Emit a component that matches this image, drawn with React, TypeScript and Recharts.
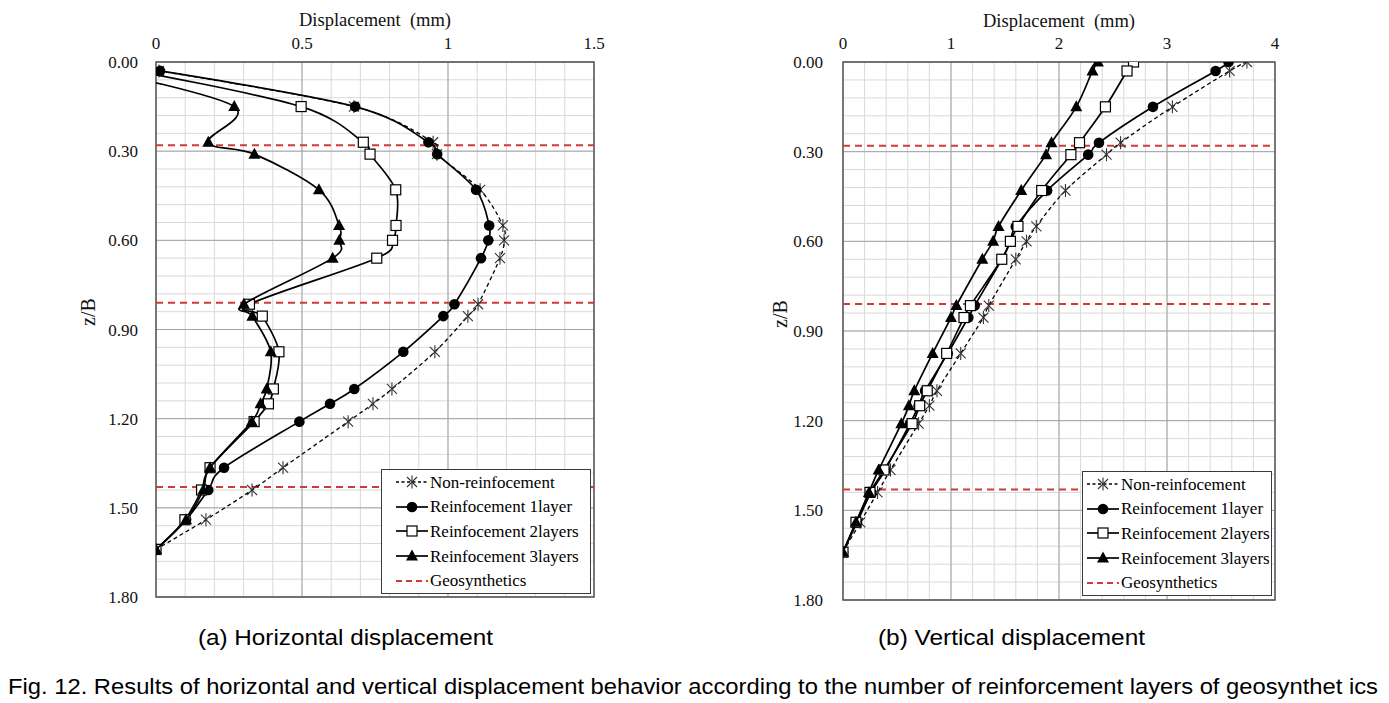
import React from 'react';
import {
  ScatterChart,
  Scatter,
  XAxis,
  YAxis,
  CartesianGrid,
  ReferenceLine,
  ReferenceArea,
} from 'recharts';

// ---------- names & ticks ----------
const SERIES_NAMES = [
  'Non-reinfocement',
  'Reinfocement 1layer',
  'Reinfocement 2layers',
  'Reinfocement 3layers',
];
const GEO_NAME = 'Geosynthetics';
const MARKERS = ['star', 'circle', 'square', 'triangle'];

const Y_TICKS = [0, 0.3, 0.6, 0.9, 1.2, 1.5, 1.8];
const H_X_TICKS = [0, 0.5, 1, 1.5];
const V_X_TICKS = [0, 1, 2, 3, 4];
const GEO_LAYERS = [0.28, 0.81, 1.43];

// ---------- (a) horizontal displacement ----------
const zH = [0.03, 0.15, 0.27, 0.31, 0.43, 0.55, 0.6, 0.66, 0.815, 0.855, 0.975, 1.1, 1.15, 1.21, 1.365, 1.44, 1.54, 1.64];
const hNon = [0.01, 0.678, 0.949, 0.962, 1.11, 1.188, 1.192, 1.178, 1.103, 1.068, 0.955, 0.808, 0.743, 0.658, 0.435, 0.329, 0.171, 0];
const h1 = [0.014, 0.682, 0.933, 0.963, 1.096, 1.141, 1.138, 1.113, 1.022, 0.984, 0.847, 0.679, 0.596, 0.491, 0.233, 0.179, 0.103, 0];
const h2 = [-0.07, 0.497, 0.71, 0.733, 0.821, 0.822, 0.81, 0.756, 0.32, 0.364, 0.421, 0.402, 0.385, 0.336, 0.185, 0.156, 0.099, 0];
const h3 = [-0.18, 0.268, 0.179, 0.337, 0.558, 0.627, 0.628, 0.605, 0.301, 0.33, 0.393, 0.379, 0.358, 0.328, 0.185, 0.162, 0.103, 0];

// ---------- (b) vertical displacement ----------
const zV = [0.0, 0.03, 0.15, 0.27, 0.31, 0.43, 0.55, 0.6, 0.66, 0.815, 0.855, 0.975, 1.1, 1.15, 1.21, 1.365, 1.44, 1.54, 1.64];
const vNon = [3.74, 3.58, 3.05, 2.57, 2.44, 2.06, 1.79, 1.7, 1.6, 1.35, 1.3, 1.09, 0.87, 0.8, 0.7, 0.44, 0.32, 0.16, 0];
const v1 = [3.57, 3.45, 2.87, 2.37, 2.27, 1.89, 1.6, 1.55, 1.47, 1.22, 1.16, 0.97, 0.76, 0.7, 0.62, 0.39, 0.26, 0.13, 0];
const v2 = [2.69, 2.63, 2.43, 2.19, 2.11, 1.84, 1.62, 1.55, 1.47, 1.18, 1.12, 0.96, 0.78, 0.71, 0.64, 0.38, 0.25, 0.12, 0];
const v3 = [2.36, 2.31, 2.16, 1.93, 1.88, 1.65, 1.44, 1.39, 1.29, 1.05, 1.0, 0.83, 0.66, 0.61, 0.54, 0.33, 0.24, 0.12, 0];

const SERIF = '"Liberation Serif", "Times New Roman", serif';
const SANS = '"Liberation Sans", Arial, sans-serif';
const RED = '#cf3b36';

type Pt = { x: number; z: number };
const toPts = (z: number[], x: number[]): Pt[] => z.map((zz, i) => ({ z: zz, x: x[i] }));

// Catmull-Rom style smoothing (like Excel's smoothed lines)
class CardinalCurve {
  _context: any; _k: number;
  _x0 = NaN; _x1 = NaN; _x2 = NaN; _y0 = NaN; _y1 = NaN; _y2 = NaN;
  _point = 0; _line: any = undefined;
  constructor(context: any) { this._context = context; this._k = 1 / 6; }
  areaStart() { this._line = 0; }
  areaEnd() { this._line = NaN; }
  lineStart() {
    this._x0 = this._x1 = this._x2 = this._y0 = this._y1 = this._y2 = NaN;
    this._point = 0;
  }
  lineEnd() {
    switch (this._point) {
      case 2: this._context.lineTo(this._x2, this._y2); break;
      case 3: this.bez(this._x1, this._y1); break;
    }
    if (this._line || (this._line !== 0 && this._point === 1)) this._context.closePath();
    this._line = 1 - this._line;
  }
  point(x: number, y: number) {
    x = +x; y = +y;
    switch (this._point) {
      case 0: this._point = 1; this._line ? this._context.lineTo(x, y) : this._context.moveTo(x, y); break;
      case 1: this._point = 2; this._x1 = x; this._y1 = y; break;
      case 2: this._point = 3; this.bez(x, y); break;
      default: this.bez(x, y); break;
    }
    this._x0 = this._x1; this._x1 = this._x2; this._x2 = x;
    this._y0 = this._y1; this._y1 = this._y2; this._y2 = y;
  }
  bez(x: number, y: number) {
    const k = this._k;
    this._context.bezierCurveTo(
      this._x1 + k * (this._x2 - this._x0),
      this._y1 + k * (this._y2 - this._y0),
      this._x2 + k * (this._x1 - x),
      this._y2 + k * (this._y1 - y),
      this._x2,
      this._y2,
    );
  }
}
const smoothCurve: any = (context: any) => new CardinalCurve(context);

function Marker({ kind, cx, cy }: { kind: string; cx: number; cy: number }) {
  if (cx == null || cy == null || isNaN(cx) || isNaN(cy)) return null;
  if (kind === 'star') {
    const r = 6.5;
    const d = 5;
    return (
      <g stroke="#333" strokeWidth={1.1} fill="none">
        <line x1={cx} y1={cy - r} x2={cx} y2={cy + r} />
        <line x1={cx - d} y1={cy - d} x2={cx + d} y2={cy + d} />
        <line x1={cx - d} y1={cy + d} x2={cx + d} y2={cy - d} />
      </g>
    );
  }
  if (kind === 'circle') return <circle cx={cx} cy={cy} r={5.3} fill="#000" />;
  if (kind === 'square')
    return <rect x={cx - 5} y={cy - 5} width={10} height={10} fill="#fff" stroke="#000" strokeWidth={1.2} />;
  if (kind === 'triangle')
    return <polygon points={`${cx},${cy - 6.5} ${cx - 6},${cy + 4.5} ${cx + 6},${cy + 4.5}`} fill="#000" />;
  return null;
}

const range = (max: number, step: number) => {
  const out: number[] = [];
  const n = Math.round(max / step);
  for (let i = 0; i <= n; i++) out.push(Math.round(i * step * 1000) / 1000);
  return out;
};

// grid coordinates from the axis scale (fallback: plot offset, linear)
const gen = (vals: number[], key: 'xAxis' | 'yAxis', max: number) => (props: any) => {
  const ax = props && props[key];
  const off = props && props.offset;
  const out: number[] = [];
  vals.forEach((v) => {
    let c = NaN;
    try {
      if (ax && typeof ax.scale === 'function') c = Number(ax.scale(v));
      else if (ax && ax.scale && typeof ax.scale.map === 'function') c = Number(ax.scale.map(v));
    } catch (e) {
      c = NaN;
    }
    if (!isFinite(c) && off) {
      c = key === 'xAxis' ? off.left + (v / max) * off.width : off.top + (v / max) * off.height;
    }
    if (isFinite(c)) out.push(c);
  });
  return out;
};

type PanelProps = {
  left: number;
  width: number;
  height: number;
  margin: { top: number; right: number; bottom: number; left: number };
  xMax: number;
  xTicks: number[];
  xMinorStep: number;
  xMajorStep: number;
  yTickMargin: number;
  series: Pt[][];
};

function Panel(p: PanelProps) {
  const minorX = range(p.xMax, p.xMinorStep);
  const majorX = range(p.xMax, p.xMajorStep);
  const minorY = range(1.8, 0.06);
  const majorY = range(1.8, 0.3);
  const tickStyle = { fontSize: 17, fontFamily: SERIF, fill: '#111' };
  return (
    <div style={{ position: 'absolute', left: p.left, top: 0 }}>
      <ScatterChart width={p.width} height={p.height} margin={p.margin}>
        <CartesianGrid
          stroke="#d9d9d9"
          strokeWidth={1}
          verticalCoordinatesGenerator={gen(minorX, 'xAxis', p.xMax)}
          horizontalCoordinatesGenerator={gen(minorY, 'yAxis', 1.8)}
        />
        <CartesianGrid
          stroke="#a3a3a3"
          strokeWidth={1}
          verticalCoordinatesGenerator={gen(majorX, 'xAxis', p.xMax)}
          horizontalCoordinatesGenerator={gen(majorY, 'yAxis', 1.8)}
        />
        <XAxis
          type="number"
          dataKey="x"
          orientation="top"
          domain={[0, p.xMax]}
          ticks={p.xTicks}
          interval={0}
          allowDataOverflow
          height={30}
          tickSize={0}
          tickMargin={13}
          axisLine={false}
          tickLine={false}
          tick={tickStyle}
        />
        <YAxis
          type="number"
          dataKey="z"
          domain={[0, 1.8]}
          reversed
          ticks={Y_TICKS}
          interval={0}
          allowDataOverflow
          width={60}
          tickSize={0}
          tickMargin={p.yTickMargin}
          axisLine={false}
          tickLine={false}
          tick={tickStyle}
          tickFormatter={(v: number) => v.toFixed(2)}
        />
        <ReferenceArea x1={0} x2={p.xMax} y1={0} y2={1.8} fill="none" stroke="#555" strokeWidth={1.4} />
        {p.series.map((data, i) => (
          <Scatter
            key={SERIES_NAMES[i]}
            name={SERIES_NAMES[i]}
            data={data}
            fill="#000"
            isAnimationActive={false}
            line={
              i === 0
                ? { stroke: '#000', strokeWidth: 1.3, strokeDasharray: '4 3' }
                : { stroke: '#000', strokeWidth: 1.7 }
            }
            lineType="joint"
            lineJointType={smoothCurve}
            shape={(sp: any) => <Marker kind={MARKERS[i]} cx={sp.cx} cy={sp.cy} />}
          />
        ))}
        {GEO_LAYERS.map((g) => (
          <ReferenceLine key={g} y={g} stroke={RED} strokeWidth={2} strokeDasharray="7 5" />
        ))}
      </ScatterChart>
    </div>
  );
}

function LegendBox({ left, top, width, padLeft }: { left: number; top: number; width: number; padLeft: number }) {
  const rows = [
    ...SERIES_NAMES.map((n, i) => ({ name: n, kind: MARKERS[i], color: '#000', dash: i === 0 ? '3 2.5' : undefined, w: i === 0 ? 1.3 : 1.7 })),
    { name: GEO_NAME, kind: 'none', color: RED, dash: '6 4', w: 2 },
  ];
  return (
    <div
      style={{
        position: 'absolute',
        left,
        top,
        width,
        border: '1px solid #3a3a3a',
        background: '#fff',
        boxSizing: 'border-box',
        paddingLeft: padLeft,
      }}
    >
      {rows.map((r) => (
        <div key={r.name} style={{ display: 'flex', alignItems: 'center', height: 24.6 }}>
          <svg width={32} height={20} style={{ flex: 'none' }}>
            <line x1={0} y1={10} x2={32} y2={10} stroke={r.color} strokeWidth={r.w} strokeDasharray={r.dash} />
            <Marker kind={r.kind} cx={16} cy={10} />
          </svg>
          <span style={{ marginLeft: 2, fontFamily: SERIF, fontSize: 17, color: '#000', lineHeight: 1, whiteSpace: 'nowrap' }}>
            {r.name}
          </span>
        </div>
      ))}
    </div>
  );
}

export default function App() {
  const hSeries = [toPts(zH, hNon), toPts(zH, h1), toPts(zH, h2), toPts(zH, h3)];
  const vSeries = [toPts(zV, vNon), toPts(zV, v1), toPts(zV, v2), toPts(zV, v3)];
  const title = 'Displacement\u00a0\u00a0(mm)';
  return (
    <div style={{ position: 'absolute', left: 0, top: 0, width: 1389, height: 703, background: '#fff', overflow: 'hidden' }}>
      <Panel
        left={0}
        width={620}
        height={610}
        margin={{ top: 32, right: 26, bottom: 13, left: 96 }}
        xMax={1.5}
        xTicks={H_X_TICKS}
        xMinorStep={0.1}
        xMajorStep={0.5}
        yTickMargin={18}
        series={hSeries}
      />
      <Panel
        left={690}
        width={610}
        height={610}
        margin={{ top: 32, right: 25, bottom: 10, left: 93 }}
        xMax={4}
        xTicks={V_X_TICKS}
        xMinorStep={0.2}
        xMajorStep={1}
        yTickMargin={20}
        series={vSeries}
      />
      <LegendBox left={381} top={469} width={210} padLeft={14} />
      <LegendBox left={1082} top={471} width={190} padLeft={4} />
      <svg width={1389} height={703} style={{ position: 'absolute', left: 0, top: 0, pointerEvents: 'none' }}>
        <text x={375} y={26} textAnchor="middle" fontFamily={SERIF} fontSize={18.5} fill="#111">
          {title}
        </text>
        <text x={1059} y={27} textAnchor="middle" fontFamily={SERIF} fontSize={18.5} fill="#111">
          {title}
        </text>
        <text x={88} y={312} textAnchor="middle" dominantBaseline="central" fontFamily={SERIF} fontSize={20} fill="#111" transform="rotate(-90 88 312)">
          z/B
        </text>
        <text x={780} y={314} textAnchor="middle" dominantBaseline="central" fontFamily={SERIF} fontSize={20} fill="#111" transform="rotate(-90 780 314)">
          z/B
        </text>
        <text x={198} y={645} fontFamily={SANS} fontSize={22} fill="#000" textLength={295} lengthAdjust="spacingAndGlyphs">
          (a) Horizontal displacement
        </text>
        <text x={878} y={645} fontFamily={SANS} fontSize={22} fill="#000" textLength={267} lengthAdjust="spacingAndGlyphs">
          (b) Vertical displacement
        </text>
        <text x={8} y={694} fontFamily={SANS} fontSize={22} fill="#000" textLength={1370} lengthAdjust="spacingAndGlyphs">
          Fig. 12. Results of horizontal and vertical displacement behavior according to the number of reinforcement layers of geosynthet ics
        </text>
      </svg>
    </div>
  );
}
